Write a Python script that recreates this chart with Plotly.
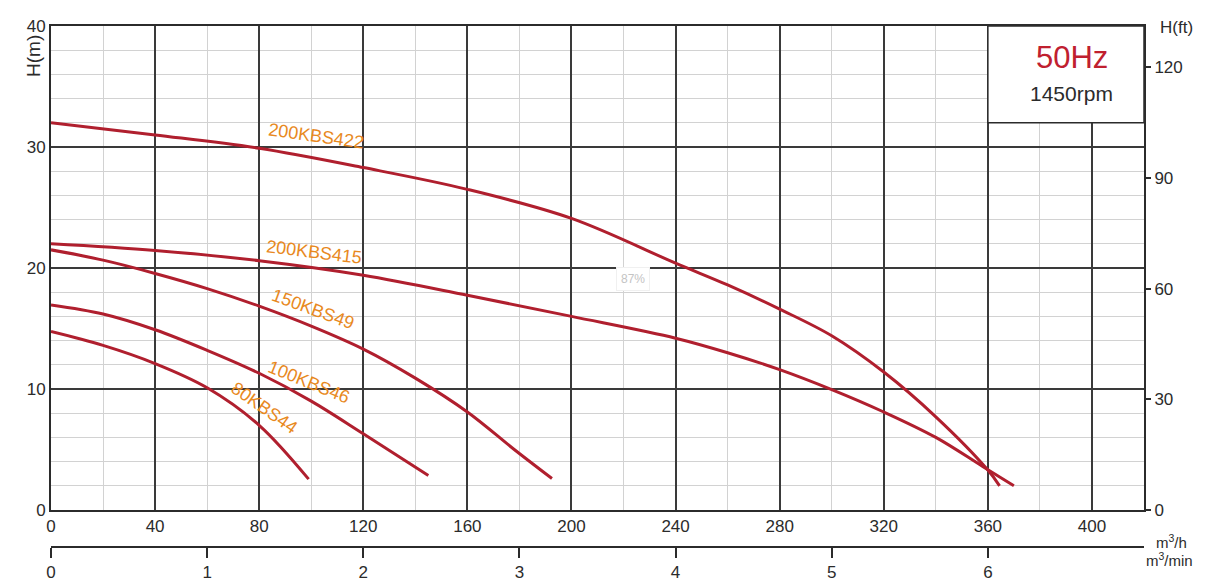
import plotly.graph_objects as go

M_TO_FT = 3.28084

# pump curves: flow (m3/h) and head (m)
q_200kbs422 = [0, 40, 80, 120, 160, 200, 240, 260, 280, 300, 320, 340, 360, 364.5]
h_200kbs422 = [32.0, 31.0, 29.9, 28.3, 26.5, 24.1, 20.4, 18.6, 16.6, 14.4, 11.4, 7.7, 3.3, 2.0]

q_200kbs415 = [0, 40, 80, 120, 160, 200, 240, 260, 280, 300, 320, 340, 358, 370]
h_200kbs415 = [22.0, 21.45, 20.6, 19.4, 17.75, 16.0, 14.2, 13.0, 11.6, 9.95, 8.1, 6.0, 3.6, 2.0]

q_150kbs49 = [0, 20, 40, 60, 80, 100, 120, 140, 160, 178, 192.5]
h_150kbs49 = [21.5, 20.65, 19.55, 18.3, 16.85, 15.2, 13.3, 10.9, 8.1, 5.0, 2.6]

q_100kbs46 = [0, 20, 40, 60, 80, 100, 120, 145]
h_100kbs46 = [16.95, 16.2, 14.9, 13.2, 11.3, 9.0, 6.3, 2.85]

q_80kbs44 = [0, 20, 40, 60, 80, 99]
h_80kbs44 = [14.75, 13.6, 12.1, 10.1, 7.0, 2.55]

series = [
    ("200KBS422", q_200kbs422, h_200kbs422),
    ("200KBS415", q_200kbs415, h_200kbs415),
    ("150KBS49", q_150kbs49, h_150kbs49),
    ("100KBS46", q_100kbs46, h_100kbs46),
    ("80KBS44", q_80kbs44, h_80kbs44),
]

# curve labels
label_names = ["200KBS422", "200KBS415", "150KBS49", "100KBS46", "80KBS44"]
label_x = [102, 101, 100.5, 99, 82]
label_y = [30.9, 21.3, 16.6, 10.6, 8.4]
label_angle = [8, 7, 20, 22, 35]

ft_ticks = [0, 30, 60, 90, 120]
min_ticks = [0, 1, 2, 3, 4, 5, 6]

curve_color = "#b01f2e"
label_color = "#e8891e"
dark = "#2b2b2b"
font = "Liberation Sans, Arial, sans-serif"
tick_font = dict(family=font, size=17, color=dark)

# page body has an 8px margin, so the figure is a bit smaller than the window
W, H = 1221, 579
ML, MR, MT, MB = 43, 85, 18, 40
PW, PH = W - ML - MR, H - MT - MB


def paper_x(px):
    return (px - 8 - ML) / PW


def paper_y(py):
    return (H - MB + 8 - py) / PH


fig = go.Figure()
for name, q, h in series:
    fig.add_trace(go.Scatter(x=q, y=h, mode="lines", name=name,
                             line=dict(color=curve_color, width=3, shape="spline", smoothing=1.0),
                             hoverinfo="x+y+name"))

# dummy traces for the ft axis and the m3/min axis
fig.add_trace(go.Scatter(x=[0], y=[0], yaxis="y2", mode="markers",
                         marker=dict(opacity=0), hoverinfo="skip", showlegend=False))
fig.add_trace(go.Scatter(x=[0], y=[0], xaxis="x2", mode="markers",
                         marker=dict(opacity=0), hoverinfo="skip", showlegend=False))

annotations = []
for n, lx, ly, a in zip(label_names, label_x, label_y, label_angle):
    annotations.append(dict(x=lx, y=ly, text=n, showarrow=False, textangle=a,
                            font=dict(family=font, size=18, color=label_color)))

annotations += [
    dict(x=392.5, y=37.4, text="50Hz", showarrow=False,
         font=dict(family=font, size=31, color="#c0202f")),
    dict(x=392, y=34.4, text="1450rpm", showarrow=False,
         font=dict(family=font, size=21, color=dark)),
    dict(x=223.5, y=19.1, text="87%", showarrow=False, bgcolor="white",
         bordercolor="#f0f0f0", borderpad=4,
         font=dict(family=font, size=12, color="#c4c4c4")),
]

paper_texts = [
    ("H(m)", 33, 56, -90, 19),
    ("H(ft)", 1176, 28, 0, 17),
    ("m<sup>3</sup>/h", 1171, 541, 0, 15),
    ("m<sup>3</sup>/min", 1169, 559, 0, 15),
]
for t, px, py, a, s in paper_texts:
    annotations.append(dict(xref="paper", yref="paper", x=paper_x(px), y=paper_y(py),
                            xanchor="center", yanchor="middle", text=t, showarrow=False,
                            textangle=a, font=dict(family=font, size=s, color=dark)))

fig.update_layout(
    width=W, height=H,
    margin=dict(l=ML, r=MR, t=MT, b=MB),
    plot_bgcolor="white", paper_bgcolor="white",
    showlegend=False,
    font=dict(family=font, size=16, color=dark),
    xaxis=dict(range=[0, 420], dtick=40, tick0=0, showgrid=True, gridcolor="#3a3a3a",
               gridwidth=1.5, zeroline=False, showline=True, linecolor=dark, linewidth=2,
               mirror=True, ticks="", anchor="y", automargin=False, tickfont=tick_font,
               minor=dict(dtick=20, showgrid=True, gridcolor="#d2d2d2", gridwidth=1)),
    xaxis2=dict(range=[0, 420 / 60], tickvals=min_ticks, overlaying="x", anchor="free",
                position=0, side="bottom", showgrid=False, zeroline=False, showline=True,
                linecolor=dark, linewidth=2, ticks="outside", ticklen=10, tickwidth=2,
                tickcolor=dark, automargin=False, tickfont=tick_font),
    yaxis=dict(range=[0, 40], dtick=10, domain=[37 / PH, 1], showgrid=True,
               gridcolor="#3a3a3a", gridwidth=1.5, zeroline=False, showline=True,
               linecolor=dark, linewidth=2, mirror=True, ticks="", automargin=False,
               tickfont=tick_font,
               minor=dict(dtick=2, showgrid=True, gridcolor="#d2d2d2", gridwidth=1)),
    yaxis2=dict(range=[0, 40 * M_TO_FT], tickvals=ft_ticks, overlaying="y", side="right",
                anchor="x", showgrid=False, zeroline=False, ticks="outside", ticklen=6,
                tickwidth=1.5, tickcolor=dark, automargin=False, tickfont=tick_font),
    shapes=[dict(type="rect", xref="x", yref="y", x0=360, x1=420, y0=32, y1=40,
                 fillcolor="white", line=dict(color=dark, width=1.5), layer="above")],
    annotations=annotations,
)

fig.write_html("out.html")
